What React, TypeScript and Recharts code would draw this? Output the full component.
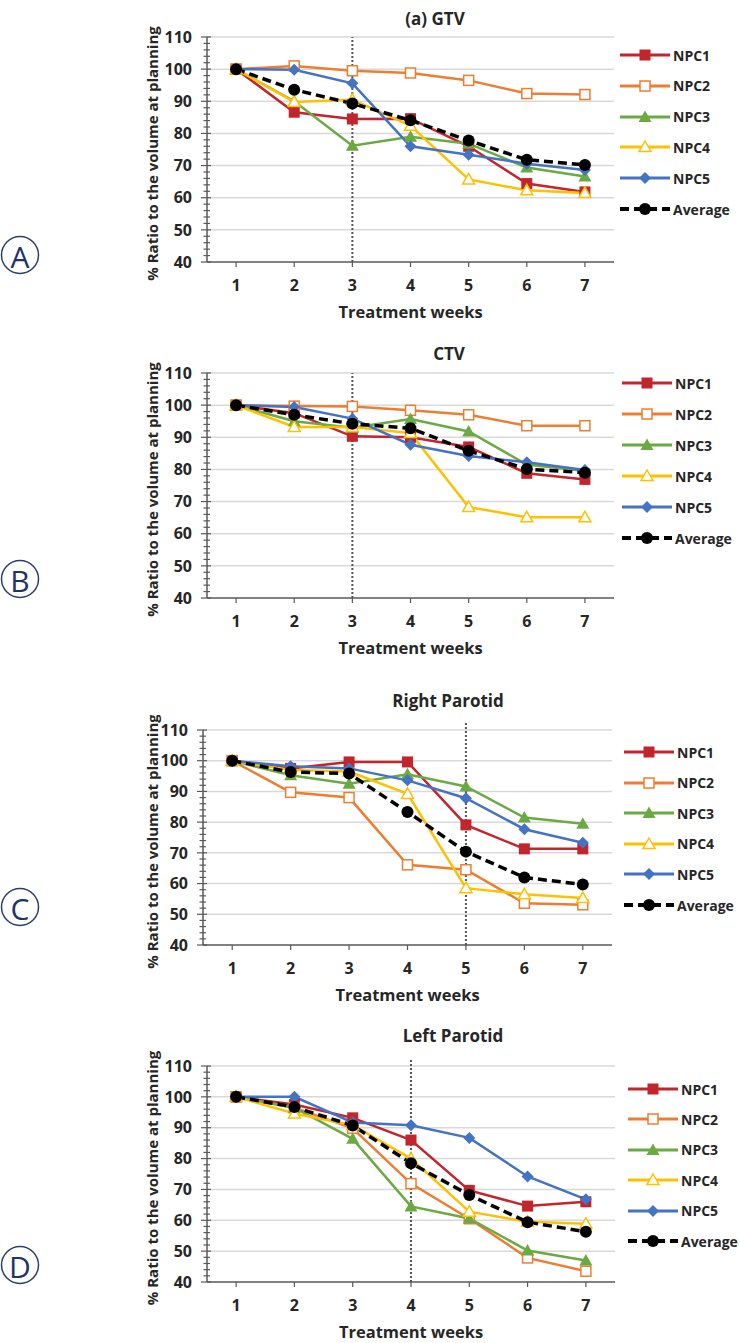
import React from 'react';
import { LineChart, Line, XAxis, YAxis, CartesianGrid, ReferenceLine } from 'recharts';

const WEEKS = [1, 2, 3, 4, 5, 6, 7];
const Y_MAJOR = [40, 50, 60, 70, 80, 90, 100, 110];
const Y_TICKS = Array.from({ length: 36 }, (_, i) => 40 + i * 2);
const GRID_LINES = [50, 60, 70, 80, 90, 100, 110];

// (a) GTV
const GTV_NPC1 = [100, 86.6, 84.5, 84.6, 76.0, 64.4, 61.8];
const GTV_NPC2 = [100, 101.0, 99.5, 98.8, 96.5, 92.4, 92.1];
const GTV_NPC3 = [100, 90.0, 76.2, 79.0, 76.8, 69.4, 66.6];
const GTV_NPC4 = [100, 89.8, 90.5, 82.4, 65.7, 62.3, 61.5];
const GTV_NPC5 = [100, 99.8, 95.6, 76.0, 73.4, 70.6, 68.6];
const GTV_AVG = [100, 93.6, 89.3, 84.1, 77.8, 71.8, 70.2];

// CTV
const CTV_NPC1 = [100, 97.5, 90.3, 90.0, 87.0, 78.8, 76.9];
const CTV_NPC2 = [100, 99.7, 99.6, 98.4, 97.0, 93.6, 93.6];
const CTV_NPC3 = [100, 95.0, 93.0, 95.7, 91.8, 81.5, 79.5];
const CTV_NPC4 = [100, 93.2, 93.2, 91.3, 68.3, 65.1, 65.1];
const CTV_NPC5 = [100, 99.4, 95.8, 87.7, 84.2, 82.2, 79.8];
const CTV_AVG = [100, 97.0, 94.2, 92.8, 85.8, 80.1, 79.0];

// Right Parotid
const RP_NPC1 = [100, 97.5, 99.6, 99.6, 79.1, 71.3, 71.3];
const RP_NPC2 = [100, 89.7, 88.0, 66.1, 64.5, 53.6, 53.1];
const RP_NPC3 = [100, 95.3, 92.5, 95.6, 91.6, 81.5, 79.5];
const RP_NPC4 = [100, 97.0, 96.5, 89.2, 58.5, 56.5, 55.3];
const RP_NPC5 = [100, 98.2, 97.5, 93.6, 87.8, 77.7, 73.3];
const RP_AVG = [100, 96.3, 95.8, 83.3, 70.4, 62.0, 59.7];

// Left Parotid
const LP_NPC1 = [100, 97.5, 93.2, 86.0, 69.7, 64.6, 66.0];
const LP_NPC2 = [100, 96.5, 89.8, 71.9, 60.5, 47.8, 43.5];
const LP_NPC3 = [100, 96.5, 86.4, 64.5, 60.6, 50.2, 47.0];
const LP_NPC4 = [100, 94.6, 90.8, 80.0, 62.8, 59.5, 58.9];
const LP_NPC5 = [100, 100.0, 91.7, 90.8, 86.7, 74.2, 66.8];
const LP_AVG = [100, 96.7, 90.7, 78.5, 68.2, 59.4, 56.3];

const FONT = '"Open Sans", "Liberation Sans", sans-serif';
const TEXT = '#262626';
const AXIS = '#595959';

type Shape = 'square' | 'squareOpen' | 'triangle' | 'triangleOpen' | 'diamond' | 'circle';

const SERIES: { key: string; color: string; shape: Shape; dash?: string; width: number }[] = [
  { key: 'NPC1', color: '#C3252C', shape: 'square', width: 2.5 },
  { key: 'NPC2', color: '#ED7D31', shape: 'squareOpen', width: 2.5 },
  { key: 'NPC3', color: '#6BAA43', shape: 'triangle', width: 2.5 },
  { key: 'NPC4', color: '#FFC000', shape: 'triangleOpen', width: 2.5 },
  { key: 'NPC5', color: '#4472C4', shape: 'diamond', width: 2.5 },
  { key: 'Average', color: '#000000', shape: 'circle', dash: '9 5', width: 3.5 },
];

function buildRows(cols: number[][]) {
  return WEEKS.map((w, i) => {
    const row: Record<string, number> = { week: w };
    SERIES.forEach((s, j) => {
      row[s.key] = cols[j][i];
    });
    return row;
  });
}

const PANELS = [
  {
    title: '(a) GTV',
    letter: 'A',
    refWeek: 3,
    refTop: 110,
    rows: buildRows([GTV_NPC1, GTV_NPC2, GTV_NPC3, GTV_NPC4, GTV_NPC5, GTV_AVG]),
    box: { left: 207, right: 614, top: 37, bottom: 262 },
    titleX: 435, titleY: 18, legendX: 620, legendY: 55, legendStep: 30.8, circleY: 255,
  },
  {
    title: 'CTV',
    letter: 'B',
    refWeek: 3,
    refTop: 110,
    rows: buildRows([CTV_NPC1, CTV_NPC2, CTV_NPC3, CTV_NPC4, CTV_NPC5, CTV_AVG]),
    box: { left: 207, right: 614, top: 373, bottom: 598 },
    titleX: 449, titleY: 353, legendX: 622, legendY: 383, legendStep: 31, circleY: 579,
  },
  {
    title: 'Right Parotid',
    letter: 'C',
    refWeek: 5,
    refTop: 112.5,
    rows: buildRows([RP_NPC1, RP_NPC2, RP_NPC3, RP_NPC4, RP_NPC5, RP_AVG]),
    box: { left: 203, right: 612, top: 730, bottom: 945 },
    titleX: 448, titleY: 700, legendX: 624, legendY: 752, legendStep: 30.6, circleY: 907,
  },
  {
    title: 'Left Parotid',
    letter: 'D',
    refWeek: 4,
    refTop: 112.5,
    rows: buildRows([LP_NPC1, LP_NPC2, LP_NPC3, LP_NPC4, LP_NPC5, LP_AVG]),
    box: { left: 207, right: 615, top: 1066, bottom: 1282 },
    titleX: 453, titleY: 1035, legendX: 628, legendY: 1089, legendStep: 30.4, circleY: 1265,
  },
];

function Marker({ shape, color, cx, cy }: { shape: Shape; color: string; cx: number; cy: number }) {
  switch (shape) {
    case 'square':
      return <rect x={cx - 5.5} y={cy - 5.5} width={11} height={11} fill={color} />;
    case 'squareOpen':
      return <rect x={cx - 5} y={cy - 5} width={10} height={10} fill="#fff" stroke={color} strokeWidth={1.5} />;
    case 'triangle':
      return <polygon points={`${cx},${cy - 6.5} ${cx + 6.5},${cy + 5} ${cx - 6.5},${cy + 5}`} fill={color} />;
    case 'triangleOpen':
      return (
        <polygon
          points={`${cx},${cy - 6} ${cx + 6},${cy + 4.5} ${cx - 6},${cy + 4.5}`}
          fill="#fff"
          stroke={color}
          strokeWidth={1.5}
        />
      );
    case 'diamond':
      return <polygon points={`${cx},${cy - 6} ${cx + 6},${cy} ${cx},${cy + 6} ${cx - 6},${cy}`} fill={color} />;
    default:
      return <circle cx={cx} cy={cy} r={6} fill={color} />;
  }
}

function YTick(props: any) {
  const { x, y, payload } = props;
  const major = payload.value % 10 === 0;
  return (
    <g>
      <line x1={x - (major ? 6 : 3.5)} x2={x + (major ? 4 : 3)} y1={y} y2={y} stroke={AXIS} strokeWidth={1.2} />
      {major && (
        <text x={x - 15} y={y} dy="0.36em" textAnchor="end" fontSize={16} fontWeight={700} fill={TEXT} fontFamily={FONT}>
          {payload.value}
        </text>
      )}
    </g>
  );
}

function Panel({ cfg }: { cfg: (typeof PANELS)[number] }) {
  const { box } = cfg;
  const topPad = 15;
  const plotH = box.bottom - box.top;
  const height = plotH + topPad + 70;
  return (
    <>
      <div
        style={{
          position: 'absolute',
          left: cfg.titleX,
          top: cfg.titleY,
          transform: 'translate(-50%, -50%)',
          fontFamily: FONT,
          fontWeight: 700,
          fontSize: 17,
          color: TEXT,
          whiteSpace: 'nowrap',
        }}
      >
        {cfg.title}
      </div>
      <div style={{ position: 'absolute', left: 140, top: box.top - topPad }}>
        <LineChart
          width={600}
          height={height}
          data={cfg.rows}
          margin={{ top: topPad, right: 740 - box.right, left: 0, bottom: 0 }}
        >
          <CartesianGrid vertical={false} horizontalValues={GRID_LINES} stroke="#d9d9d9" strokeWidth={1.5} />
          <XAxis
            type="number"
            dataKey="week"
            domain={[0.5, 7.5]}
            ticks={WEEKS}
            interval={0}
            height={70}
            tickSize={5}
            tickMargin={13}
            axisLine={{ stroke: AXIS, strokeWidth: 1.5 }}
            tickLine={{ stroke: AXIS, strokeWidth: 1.2 }}
            tick={{ fontSize: 16, fontWeight: 700, fill: TEXT, fontFamily: FONT }}
            label={{
              value: 'Treatment weeks',
              position: 'insideBottom',
              offset: 14,
              fontSize: 16.5,
              fontWeight: 700,
              fill: TEXT,
              fontFamily: FONT,
            }}
          />
          <YAxis
            type="number"
            domain={[40, 110]}
            ticks={Y_TICKS}
            interval={0}
            width={box.left - 140}
            tickSize={0}
            tickMargin={0}
            tickLine={false}
            axisLine={{ stroke: AXIS, strokeWidth: 1.5 }}
            tick={<YTick />}
            label={{
              content: () => (
                <text
                  transform={`translate(11.5, ${topPad + plotH / 2 + 4}) rotate(-90)`}
                  textAnchor="middle"
                  dominantBaseline="central"
                  fontSize={15}
                  fontWeight={700}
                  fill={TEXT}
                  fontFamily={FONT}
                >
                  % Ratio to the volume at planning
                </text>
              ),
            }}
          />
          <ReferenceLine
            segment={[
              { x: cfg.refWeek, y: 40 },
              { x: cfg.refWeek, y: cfg.refTop },
            ]}
            ifOverflow="visible"
            stroke="#555"
            strokeWidth={2}
            strokeDasharray="2 2"
          />
          {SERIES.map((s) => (
            <Line
              key={s.key}
              type="linear"
              dataKey={s.key}
              stroke={s.color}
              strokeWidth={s.width}
              strokeDasharray={s.dash}
              isAnimationActive={false}
              dot={(p: any) => <Marker key={`${s.key}-${p.index}`} shape={s.shape} color={s.color} cx={p.cx} cy={p.cy} />}
              activeDot={false}
            />
          ))}
        </LineChart>
      </div>
      {SERIES.map((s, i) => (
        <div
          key={s.key}
          style={{
            position: 'absolute',
            left: cfg.legendX,
            top: cfg.legendY + i * cfg.legendStep - 10,
            height: 20,
            display: 'flex',
            alignItems: 'center',
            fontFamily: FONT,
            fontWeight: 700,
            fontSize: 14,
            color: TEXT,
            whiteSpace: 'nowrap',
          }}
        >
          <svg width={50} height={20} style={{ display: 'block' }}>
            <line
              x1={0}
              x2={50}
              y1={10}
              y2={10}
              stroke={s.color}
              strokeWidth={s.width + 0.5}
              strokeDasharray={s.dash}
            />
            <Marker shape={s.shape} color={s.color} cx={25} cy={10} />
          </svg>
          <span style={{ marginLeft: 3 }}>{s.key}</span>
        </div>
      ))}
      <svg
        width={42}
        height={42}
        style={{ position: 'absolute', left: 19.5 - 21, top: cfg.circleY - 21 }}
      >
        <circle cx={21} cy={21} r={18.5} fill="#fff" stroke="#2B3F6E" strokeWidth={1.5} />
        <text x={21} y={22} textAnchor="middle" dominantBaseline="central" fontSize={30} fill="#1F3466" fontFamily={FONT}>
          {cfg.letter}
        </text>
      </svg>
    </>
  );
}

export default function App() {
  return (
    <div style={{ position: 'absolute', left: 0, top: 0, width: 740, height: 1343, background: '#fff', overflow: 'hidden' }}>
      {PANELS.map((p) => (
        <Panel key={p.title} cfg={p} />
      ))}
    </div>
  );
}
